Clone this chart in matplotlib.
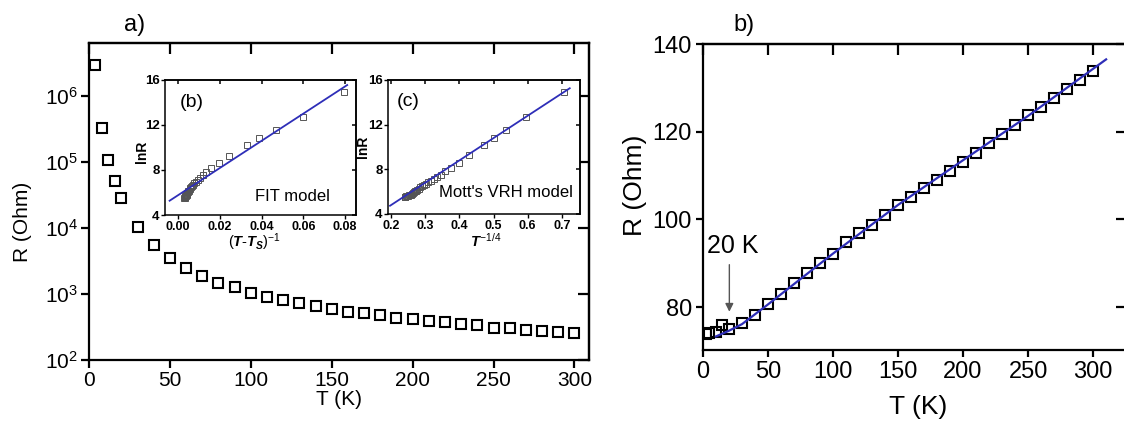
import matplotlib
matplotlib.use('Agg')
import matplotlib.pyplot as plt
from matplotlib.ticker import NullLocator

plt.rcParams['font.family'] = ['Liberation Sans', 'DejaVu Sans']
plt.rcParams['mathtext.fontset'] = 'custom'
plt.rcParams['mathtext.rm'] = 'Liberation Sans'
plt.rcParams['mathtext.it'] = 'Liberation Sans:italic:bold'
plt.rcParams['mathtext.bf'] = 'Liberation Sans:bold'

# panel a) R(T), log scale
T_a = [4, 8, 12, 16, 20, 30, 40, 50, 60, 70, 80, 90, 100, 110, 120, 130, 140, 150,
       160, 170, 180, 190, 200, 210, 220, 230, 240, 250, 260, 270, 280, 290, 300]
R_a = [2.9e6, 3.2e5, 1.07e5, 5.2e4, 2.8e4, 1.04e4, 5.5e3, 3.5e3, 2.5e3, 1.87e3,
       1.47e3, 1.27e3, 1.05e3, 900, 810, 730, 660, 590, 540, 510, 480, 435, 415,
       390, 375, 355, 340, 310, 300, 285, 275, 270, 260]

# inset (b): FIT model
x_fit = [0.0794, 0.0597, 0.047, 0.039, 0.0332, 0.0245, 0.0195, 0.0158, 0.0135,
         0.0118, 0.0105, 0.0094, 0.0086, 0.0079, 0.0073, 0.0068, 0.0063, 0.0059,
         0.0056, 0.0053, 0.0050, 0.0047, 0.0045, 0.0043, 0.0041, 0.0039, 0.0038,
         0.0036, 0.0035, 0.0034, 0.0033, 0.0032, 0.0031]
# inset (c): Mott's VRH, T^-1/4
x_vrh = [0.707, 0.595, 0.537, 0.500, 0.473, 0.427, 0.398, 0.376, 0.359, 0.346,
         0.334, 0.325, 0.316, 0.309, 0.302, 0.296, 0.291, 0.286, 0.281, 0.277,
         0.273, 0.269, 0.266, 0.263, 0.260, 0.257, 0.254, 0.252, 0.249, 0.247,
         0.245, 0.242, 0.240]
lnR = [14.9, 12.7, 11.55, 10.85, 10.2, 9.25, 8.6, 8.15, 7.82, 7.53, 7.29, 7.15,
       6.96, 6.85, 6.68, 6.58, 6.49, 6.38, 6.28, 6.17, 6.09, 6.03, 5.96, 5.88,
       5.82, 5.74, 5.71, 5.66, 5.62, 5.6, 5.57, 5.55, 5.53]
fit_b_x = [-0.004, 0.081]
fit_b_y = [5.27, 15.55]
fit_c_x = [0.197, 0.723]
fit_c_y = [4.74, 15.26]

# panel b) R(T), linear scale
T_b = [2, 5, 10, 15, 20, 30, 40, 50, 60, 70, 80, 90, 100, 110, 120, 130, 140, 150,
       160, 170, 180, 190, 200, 210, 220, 230, 240, 250, 260, 270, 280, 290, 300]
R_b = [73.9, 74.0, 74.4, 75.8, 74.9, 76.3, 78.3, 80.7, 83.0, 85.4, 87.8, 90.0,
       92.1, 94.8, 96.9, 98.8, 101.0, 103.2, 105.2, 107.1, 109.0, 111.0, 113.2,
       115.2, 117.5, 119.5, 121.5, 123.7, 125.7, 127.8, 129.7, 131.8, 133.8]
T_line = [10, 20, 30, 50, 100, 150, 200, 250, 310]
R_line = [73.3, 74.6, 76.1, 80.6, 92.2, 103.3, 113.5, 123.6, 136.5]

blue = '#2e2eb8'


def mirror(ax, xt, yt, length, width, minor_off=False):
    top = ax.secondary_xaxis('top')
    top.set_xticks(xt)
    top.tick_params(direction='in', length=length, width=width, labeltop=False)
    right = ax.secondary_yaxis('right')
    right.set_yticks(yt)
    right.tick_params(direction='in', length=length, width=width, labelright=False)
    if minor_off:
        right.yaxis.set_minor_locator(NullLocator())
    for s in list(top.spines.values()) + list(right.spines.values()):
        s.set_linewidth(width)


fig = plt.figure(figsize=(11.24, 4.21), dpi=100)

# ---- a)
ax1 = fig.add_axes([0.0792, 0.1449, 0.4448, 0.753])
ax1.plot(T_a, R_a, 's', mfc='none', mec='black', ms=6.5, mew=1.5)
ax1.set_yscale('log')
ax1.set_xlim(0, 309)
ax1.set_ylim(1e2, 6.3e6)
yt = [1e2, 1e3, 1e4, 1e5, 1e6]
ax1.set_yticks(yt)
ax1.set_yticklabels([r'$\mathregular{10^{%d}}$' % i for i in range(2, 7)])
ax1.yaxis.set_minor_locator(NullLocator())
xt = [0, 50, 100, 150, 200, 250, 300]
ax1.set_xticks(xt)
ax1.tick_params(direction='out', length=6, width=1.6, labelsize=15, pad=2)
for s in ax1.spines.values():
    s.set_linewidth(1.6)
mirror(ax1, xt, yt, 8, 1.6, minor_off=True)
ax1.set_xlabel('T (K)', fontsize=15, va='center')
ax1.xaxis.set_label_coords(0.5, -0.125)
ax1.set_ylabel('R (Ohm)', fontsize=15, va='center')
ax1.yaxis.set_label_coords(-0.134, 0.435)
fig.text(135 / 1124, 1 - 25 / 421, 'a)', fontsize=17, ha='center', va='center')

# ---- inset (b)
axb = fig.add_axes([0.1468, 0.4893, 0.1699, 0.3207])
axb.plot(x_fit, lnR, 's', mfc='none', mec='#555555', ms=4, mew=0.7)
axb.plot(fit_b_x, fit_b_y, '-', color=blue, lw=1.3)
axb.set_xlim(-0.0062, 0.0852)
axb.set_ylim(4, 16)
bxt = [0, 0.02, 0.04, 0.06, 0.08]
axb.set_xticks(bxt)
axb.set_xticklabels(['0.00', '0.02', '0.04', '0.06', '0.08'], fontweight='bold', fontsize=9)
axb.set_yticks([4, 8, 12, 16])
axb.set_yticklabels(['4', '8', '12', '16'], fontweight='bold', fontsize=9.5)
axb.tick_params(direction='out', length=3, width=1, pad=1)
for s in axb.spines.values():
    s.set_linewidth(1.1)
mirror(axb, bxt, [4, 8, 12, 16], 3, 1.1)
axb.set_ylabel('lnR', fontsize=10, fontweight='bold', va='center')
axb.yaxis.set_label_coords(-0.12, 0.467)
axb.set_xlabel(r'$(T$-$T_S)^{-1}$', fontsize=10.5, va='center')
axb.xaxis.set_label_coords(0.47, -0.2)
axb.text(0.14, 0.83, '(b)', transform=axb.transAxes, fontsize=14, ha='center', va='center')
axb.text(0.665, 0.14, 'FIT model', transform=axb.transAxes, fontsize=12, ha='center', va='center')

# ---- inset (c)
axc = fig.add_axes([0.3452, 0.4917, 0.1708, 0.3183])
axc.plot(x_vrh, lnR, 's', mfc='none', mec='#555555', ms=4, mew=0.7)
axc.plot(fit_c_x, fit_c_y, '-', color=blue, lw=1.3)
axc.set_xlim(0.191, 0.753)
axc.set_ylim(4, 16)
cxt = [0.2, 0.3, 0.4, 0.5, 0.6, 0.7]
axc.set_xticks(cxt)
axc.set_xticklabels(['0.2', '0.3', '0.4', '0.5', '0.6', '0.7'], fontweight='bold', fontsize=9)
axc.set_yticks([4, 8, 12, 16])
axc.set_yticklabels(['4', '8', '12', '16'], fontweight='bold', fontsize=9.5)
axc.tick_params(direction='out', length=3, width=1, pad=1)
for s in axc.spines.values():
    s.set_linewidth(1.1)
mirror(axc, cxt, [4, 8, 12, 16], 3, 1.1)
axc.set_ylabel('lnR', fontsize=10, fontweight='bold', va='center')
axc.yaxis.set_label_coords(-0.13, 0.5)
axc.set_xlabel(r'$T^{-1/4}$', fontsize=10.5, va='center')
axc.xaxis.set_label_coords(0.51, -0.2)
axc.text(0.104, 0.836, '(c)', transform=axc.transAxes, fontsize=14, ha='center', va='center')
axc.text(0.615, 0.157, "Mott's VRH model", transform=axc.transAxes, fontsize=12,
         ha='center', va='center')

# ---- b)
ax2 = fig.add_axes([0.6254, 0.1686, 0.3772, 0.7268])
ax2.plot(T_b, R_b, 's', mfc='none', mec='black', ms=7, mew=1.5, zorder=2)
ax2.plot(T_line, R_line, '-', color=blue, lw=1.6, zorder=3)
ax2.set_xlim(0, 326)
ax2.set_ylim(70.2, 140)
x2t = [0, 50, 100, 150, 200, 250, 300]
y2t = [80, 100, 120, 140]
ax2.set_xticks(x2t)
ax2.set_yticks(y2t)
ax2.tick_params(direction='out', length=5, width=1.6, labelsize=17, pad=3)
for s in ax2.spines.values():
    s.set_linewidth(1.6)
mirror(ax2, x2t, y2t, 8, 1.6)
ax2.set_xlabel('T (K)', fontsize=19, va='center')
ax2.xaxis.set_label_coords(0.507, -0.186)
ax2.set_ylabel('R (Ohm)', fontsize=19, va='center')
ax2.yaxis.set_label_coords(-0.161, 0.539)
ax2.annotate('', xy=(20.3, 78.3), xytext=(20.3, 90.3),
             arrowprops=dict(arrowstyle='-|>', color='#555555', lw=1, mutation_scale=12))
ax2.text(23.1, 93.9, '20 K', fontsize=18, ha='center', va='center')
fig.text(744 / 1124, 1 - 25 / 421, 'b)', fontsize=17, ha='center', va='center')

fig.savefig('out.png', dpi=100)
